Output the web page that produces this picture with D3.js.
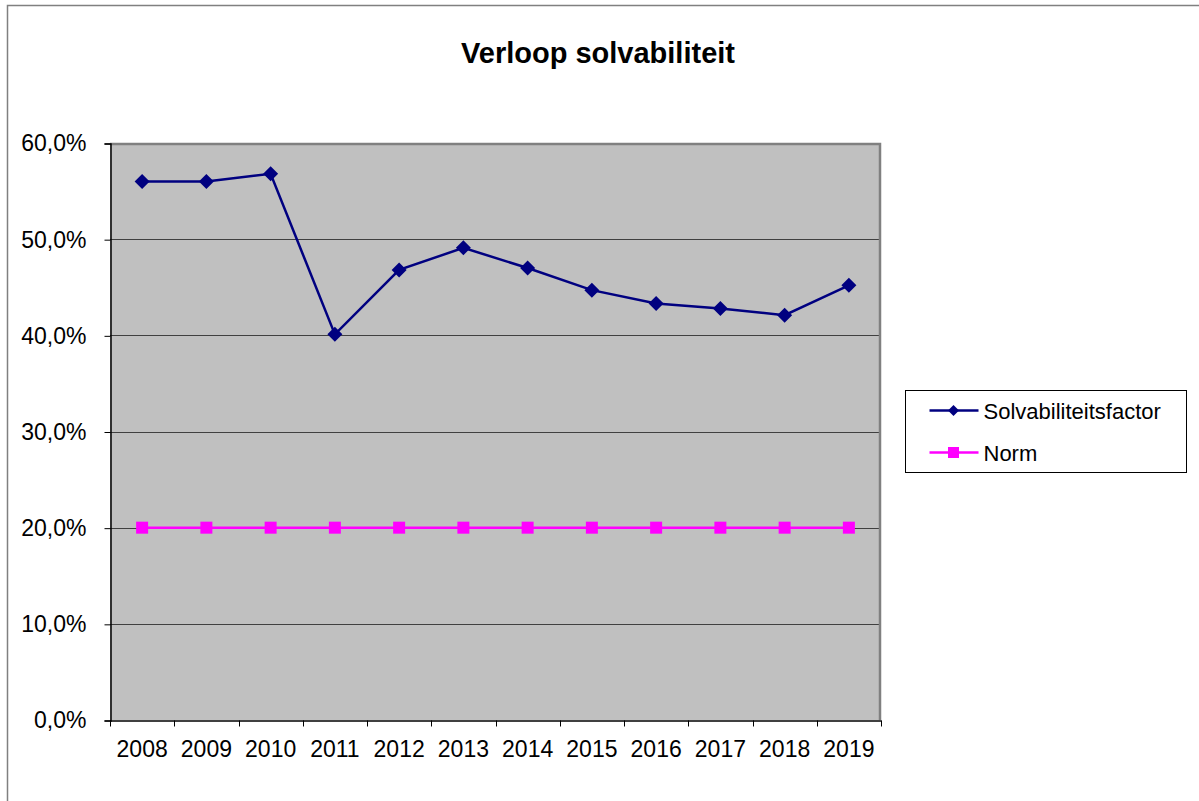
<!DOCTYPE html>
<html>
<head>
<meta charset="utf-8">
<script src="https://cdn.jsdelivr.net/npm/d3@7"></script>
<style>
  body { margin: 0; background: #fff; }
  text { font-family: "Liberation Sans", Arial, sans-serif; }
</style>
</head>
<body>
<svg width="1199" height="801"></svg>
<script>
// data
var years = ["2008","2009","2010","2011","2012","2013","2014","2015","2016","2017","2018","2019"];
var solvabiliteit = [56.0, 56.0, 56.8, 40.1, 46.8, 49.1, 47.0, 44.7, 43.3, 42.8, 42.1, 45.2];
var norm = [20, 20, 20, 20, 20, 20, 20, 20, 20, 20, 20, 20];
var yTicks = [0, 10, 20, 30, 40, 50, 60];

var svg = d3.select("svg");

// outer chart border
svg.append("rect")
    .attr("x", 7.5).attr("y", 5.5)
    .attr("width", 1300).attr("height", 900)
    .attr("fill", "#fff")
    .attr("stroke", "#808080")
    .attr("stroke-width", 1.5);

var plotLeft = 110, plotRight = 881, plotTop = 143, plotBottom = 720;

var x = d3.scaleBand().domain(years).range([plotLeft, plotRight]);
var y = d3.scaleLinear().domain([0, 60]).range([plotBottom, plotTop]);

// plot background
svg.append("rect")
    .attr("x", plotLeft).attr("y", plotTop)
    .attr("width", plotRight - plotLeft).attr("height", plotBottom - plotTop)
    .attr("fill", "#c0c0c0");

// gridlines
svg.append("g").selectAll("line")
  .data(yTicks.slice(1, -1))
  .enter().append("line")
    .attr("x1", plotLeft).attr("x2", plotRight)
    .attr("y1", function(d) { return Math.round(y(d)) + 0.5; })
    .attr("y2", function(d) { return Math.round(y(d)) + 0.5; })
    .attr("stroke", "#404040")
    .attr("stroke-width", 1);

// plot border top/right
svg.append("path")
    .attr("d", "M" + plotLeft + "," + (plotTop + 1) + "H" + (plotRight - 1) + "V" + plotBottom)
    .attr("fill", "none")
    .attr("stroke", "#808080")
    .attr("stroke-width", 2.5);

// y axis
var yAxis = d3.axisLeft(y)
    .tickValues(yTicks)
    .tickSize(6)
    .tickPadding(18)
    .tickFormat(function(d) { return d.toFixed(1).replace(".", ",") + "%"; });

var gy = svg.append("g")
    .attr("transform", "translate(" + (plotLeft + 0.5) + ",0.5)")
    .call(yAxis);
gy.select(".domain").attr("stroke", "#000").attr("stroke-width", 1.5);
gy.selectAll(".tick line").attr("stroke", "#000");
gy.selectAll("text")
    .attr("font-size", 23)
    .attr("fill", "#000")
    .style("font-family", "Liberation Sans, Arial, sans-serif");

// x axis
var xAxis = d3.axisBottom(x).tickSize(0).tickPadding(20);
var gx = svg.append("g")
    .attr("transform", "translate(0," + (plotBottom + 0.5) + ")")
    .call(xAxis);
gx.select(".domain").attr("stroke", "#000").attr("stroke-width", 1.5);
gx.selectAll("text")
    .attr("font-size", 23)
    .attr("fill", "#000")
    .style("font-family", "Liberation Sans, Arial, sans-serif");

// category boundary ticks
var bounds = years.map(function(d) { return x(d); }).concat([x(years[years.length - 1]) + x.bandwidth()]);
gx.selectAll("line.bound")
  .data(bounds)
  .enter().append("line")
    .attr("class", "bound")
    .attr("x1", function(d) { return Math.round(d) + 0.5; })
    .attr("x2", function(d) { return Math.round(d) + 0.5; })
    .attr("y1", 0).attr("y2", 6)
    .attr("stroke", "#000");

var cx = function(d, i) { return x(years[i]) + x.bandwidth() / 2; };

var line = d3.line()
    .x(function(d, i) { return cx(d, i); })
    .y(function(d) { return y(d); });

// norm series
svg.append("path")
    .datum(norm)
    .attr("d", line)
    .attr("fill", "none")
    .attr("stroke", "#ff00ff")
    .attr("stroke-width", 2.5);
svg.append("g").selectAll("rect")
  .data(norm)
  .enter().append("rect")
    .attr("x", function(d, i) { return cx(d, i) - 6; })
    .attr("y", function(d) { return y(d) - 6; })
    .attr("width", 12).attr("height", 12)
    .attr("fill", "#ff00ff");

// solvabiliteit series
svg.append("path")
    .datum(solvabiliteit)
    .attr("d", line)
    .attr("fill", "none")
    .attr("stroke", "#000080")
    .attr("stroke-width", 2.5);
var diamond = "M0,-7.5L7.5,0L0,7.5L-7.5,0Z";
svg.append("g").selectAll("path")
  .data(solvabiliteit)
  .enter().append("path")
    .attr("d", diamond)
    .attr("transform", function(d, i) { return "translate(" + cx(d, i) + "," + y(d) + ")"; })
    .attr("fill", "#000080");

// title
svg.append("text")
    .attr("x", 598).attr("y", 63)
    .attr("text-anchor", "middle")
    .attr("font-size", 29)
    .attr("font-weight", "bold")
    .text("Verloop solvabiliteit");

// legend
var legend = svg.append("g").attr("transform", "translate(905.5,390.5)");
legend.append("rect")
    .attr("width", 281).attr("height", 82)
    .attr("fill", "#fff")
    .attr("stroke", "#000")
    .attr("stroke-width", 1);

var items = [
  { name: "Solvabiliteitsfactor", color: "#000080", shape: "diamond" },
  { name: "Norm", color: "#ff00ff", shape: "square" }
];
var item = legend.selectAll("g.item")
  .data(items)
  .enter().append("g")
    .attr("class", "item")
    .attr("transform", function(d, i) { return "translate(0," + (20 + i * 42) + ")"; });
item.append("line")
    .attr("x1", 24).attr("x2", 73)
    .attr("stroke", function(d) { return d.color; })
    .attr("stroke-width", 2.5);
item.append("path")
    .attr("d", function(d) { return d.shape === "diamond" ? "M0,-5.5L5.5,0L0,5.5L-5.5,0Z" : "M-5.5,-5.5H5.5V5.5H-5.5Z"; })
    .attr("transform", "translate(48,0)")
    .attr("fill", function(d) { return d.color; });
item.append("text")
    .attr("x", 78).attr("y", 8)
    .attr("font-size", 22)
    .text(function(d) { return d.name; });
</script>
</body>
</html>
